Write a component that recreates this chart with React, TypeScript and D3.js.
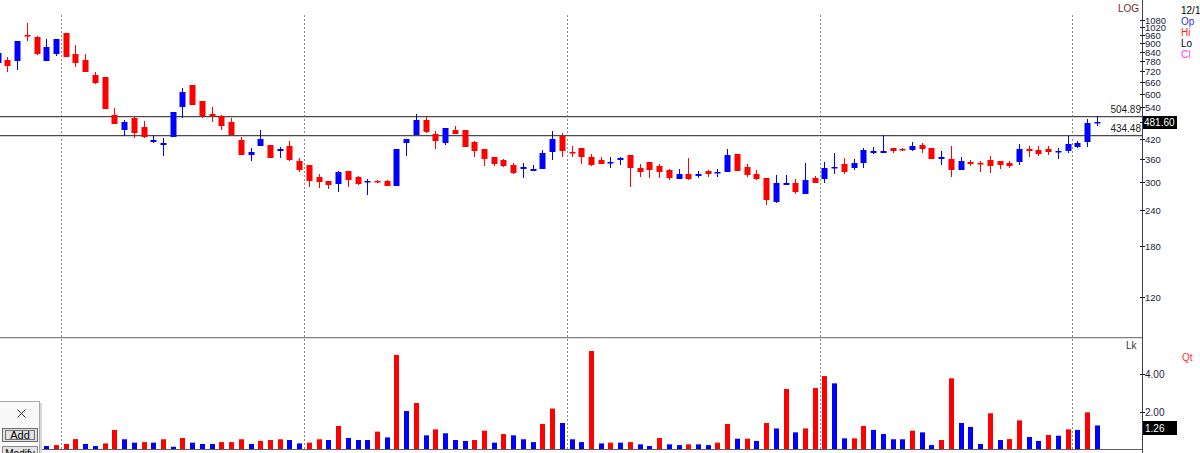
import React from 'react'
import * as d3 from 'd3'

// OHLC per bar (index 0 is the partly hidden bar at the left edge)
const opens = [768, 787, 782, 959, 946, 782, 824, 972, 824, 787, 699, 686, 509, 452, 496, 462, 411, 400, 427, 543,
  643, 569, 511, 505, 480, 418, 371, 399, 400, 382, 398, 352, 341, 311, 301, 294, 327, 311, 299, 301,
  301, 291, 408, 433, 488, 437, 408, 452, 450, 412, 388, 364, 356, 341, 331, 326, 332, 379, 432, 379,
  391, 364, 356, 347, 356, 371, 335, 350, 339, 329, 306, 318, 315, 327, 321, 325, 374, 336, 318, 310,
  255, 293, 296, 272, 309, 306, 334, 344, 333, 347, 377, 377, 392, 388, 386, 401, 391, 360, 359, 329,
  351, 348, 356, 353, 347, 350, 390, 386, 388, 382, 381, 394, 412, 478]
const highs = [838, 804, 915, 1057, 951, 929, 929, 977, 886, 824, 717, 686, 536, 489, 500, 485, 434, 423, 520, 630,
  643, 569, 543, 509, 496, 428, 392, 453, 400, 396, 415, 361, 341, 318, 301, 327, 327, 313, 307, 303,
  304, 390, 419, 512, 502, 449, 458, 466, 452, 414, 388, 364, 358, 347, 347, 341, 386, 447, 440, 398,
  391, 374, 364, 364, 366, 371, 345, 350, 345, 331, 331, 361, 326, 329, 331, 390, 374, 345, 329, 310,
  316, 316, 306, 348, 313, 350, 376, 361, 359, 391, 395, 434, 392, 392, 411, 406, 391, 384, 398, 366,
  356, 353, 368, 353, 353, 405, 398, 398, 398, 391, 432, 415, 492, 505]
const lows = [762, 717, 727, 917, 819, 782, 815, 808, 746, 717, 649, 535, 475, 432, 425, 423, 406, 369, 427, 496,
  551, 496, 480, 450, 435, 371, 354, 399, 363, 361, 353, 325, 288, 286, 284, 277, 287, 292, 269, 296,
  291, 291, 369, 433, 441, 389, 401, 437, 394, 364, 340, 340, 337, 319, 308, 326, 332, 356, 366, 364,
  346, 339, 345, 334, 342, 287, 311, 308, 309, 304, 306, 304, 309, 312, 312, 325, 327, 312, 304, 249,
  253, 293, 272, 272, 296, 298, 318, 318, 328, 334, 373, 377, 376, 381, 381, 376, 360, 342, 312, 329,
  339, 325, 322, 331, 335, 342, 364, 368, 371, 360, 376, 392, 396, 467]
const closes = [832, 752, 915, 955, 824, 870, 927, 808, 770, 717, 657, 535, 475, 481, 442, 427, 417, 406, 520, 610,
  551, 506, 506, 466, 435, 371, 380, 420, 363, 390, 356, 329, 302, 299, 293, 324, 304, 294, 302, 299,
  291, 390, 419, 489, 445, 415, 458, 437, 394, 381, 358, 345, 340, 322, 336, 331, 376, 419, 381, 376,
  366, 342, 345, 350, 361, 333, 325, 329, 325, 310, 318, 307, 318, 318, 324, 371, 327, 317, 306, 259,
  296, 296, 277, 303, 298, 335, 338, 325, 348, 386, 381, 384, 381, 385, 397, 389, 360, 364, 329, 353,
  345, 345, 339, 341, 339, 389, 384, 374, 379, 384, 404, 406, 476, 481.6]

// volume in lakhs, with the bar colour flag (B = blue, R = red)
const volumes = [0.3, 0.25, 0.4, 0.3, 0.2, 0.16, 0.21, 0.27, 0.53, 0.27, 0.16, 0.30, 1.02, 0.52, 0.34, 0.37, 0.34, 0.52, 0.12, 0.59,
  0.34, 0.27, 0.27, 0.37, 0.37, 0.52, 0.27, 0.43, 0.48, 0.52, 0.48, 0.30, 0.34, 0.52, 0.48, 1.23, 0.59, 0.48, 0.48, 0.93,
  0.62, 5.03, 2.03, 2.46, 0.73, 1.05, 0.84, 0.48, 0.43, 0.48, 0.98, 0.34, 0.80, 0.73, 0.52, 0.37, 1.34, 2.16, 1.39, 0.52,
  0.37, 5.24, 0.30, 0.34, 0.34, 0.37, 0.25, 0.16, 0.59, 0.25, 0.21, 0.25, 0.25, 0.21, 0.34, 1.34, 0.55, 0.55, 0.43, 1.39,
  1.10, 3.21, 0.89, 1.10, 3.26, 3.90, 3.51, 0.57, 0.57, 1.23, 1.02, 0.80, 0.52, 0.52, 0.98, 0.89, 0.21, 0.48, 3.78, 1.39,
  1.18, 0.27, 1.91, 0.48, 0.53, 1.53, 0.64, 0.43, 0.75, 0.71, 1.05, 1.02, 1.96, 1.26]
const volumeColors = 'RBRRB' + 'BRRRBBRRBB' + 'RBRBRBBBRR' + 'RBRRRBBRRB' + 'RBBBRBRBRB' + 'RBBBRRBRBB' +
  'BRRBBBRBRB' + 'RBBRBBRBBR' + 'RBRBRBRBRR' + 'RBBRRBBBBR' + 'BBRRBBBRBR' + 'RBBRBRBRB'

// last bar of each period (dotted separators drawn after these)
const periodEnds = [6, 31, 58, 84, 110]
const priceTicks = [120, 180, 240, 300, 360, 420, 480, 540, 600, 660, 720, 780, 840, 900, 960, 1020, 1080]
const volumeTicks = [2, 4]
const levels = [504.89, 434.48]
const legend = [
  { t: 'Op', c: '#3030ff' },
  { t: 'Hi', c: '#ff2020' },
  { t: 'Lo', c: '#000000' },
  { t: 'Cl', c: '#ff33ff' },
]

const W = 1200, H = 453
const AXIS_X = 1142
const PANEL_SPLIT = 337
const VOL_BASE = 449
const UP = '#0000ff', DOWN = '#ff0000'
const FONT = '"Liberation Sans", Arial, sans-serif'

const App = () => {
  const n = opens.length
  const x = d3.scaleLinear().domain([0, n - 1]).range([-2.4, 1096.8])
  const y = d3.scaleLog().domain([120, 1080]).range([297.3, 20])
  const yv = d3.scaleLinear().domain([0, 4]).range([VOL_BASE, 374.2])
  const fmt = d3.format('.2f')

  const lastClose = closes[n - 1]
  const lastVol = volumes[n - 1]
  const lastY = Math.round(y(lastClose))

  return (
    <svg width={W} height={H} style={{ position: 'absolute', left: 0, top: 0, background: '#fff', fontFamily: FONT }}>
      <rect width={W} height={H} fill="#ffffff" />

      {/* dotted period separators */}
      {periodEnds.map((k, i) => {
        const px = Math.round(x(k + 0.5)) + 0.5
        return <line key={'p' + i} x1={px} x2={px} y1={15} y2={VOL_BASE} stroke="#8a8a8a" strokeDasharray="2,2" />
      })}

      {/* support / resistance lines */}
      {levels.map((v, i) => {
        const py = Math.round(y(v)) + 0.5
        return (
          <g key={'l' + i}>
            <line x1={0} x2={AXIS_X} y1={py} y2={py} stroke="#4a4a4a" />
            <line x1={0} x2={AXIS_X} y1={py + 1} y2={py + 1} stroke="#d0d0d0" />
            <text x={AXIS_X - 1} y={py - 4} fontSize={10} textAnchor="end" fill="#222">{fmt(v)}</text>
          </g>
        )
      })}

      {/* candles */}
      {opens.map((o, k) => {
        const c = closes[k]
        const cx = Math.round(x(k))
        const col = c >= o ? UP : DOWN
        const top = Math.round(y(Math.max(o, c)))
        const bot = Math.round(y(Math.min(o, c)))
        return (
          <g key={'c' + k}>
            <line x1={cx + 0.5} x2={cx + 0.5} y1={Math.round(y(highs[k]))} y2={Math.round(y(lows[k]))} stroke={col} />
            <rect x={cx - 2.5} y={top} width={6} height={Math.max(1.5, bot - top)} fill={col} />
          </g>
        )
      })}

      {/* volume bars */}
      {volumes.map((v, k) => {
        const cx = Math.round(x(k))
        const top = yv(v)
        return <rect key={'v' + k} x={cx - 2} y={top} width={5} height={VOL_BASE - top}
          fill={volumeColors[k] === 'B' ? UP : DOWN} />
      })}

      {/* panel frame */}
      <line x1={0} x2={AXIS_X} y1={PANEL_SPLIT + 0.5} y2={PANEL_SPLIT + 0.5} stroke="#808080" />
      <line x1={0} x2={AXIS_X} y1={PANEL_SPLIT + 1.5} y2={PANEL_SPLIT + 1.5} stroke="#e0e0e0" />
      <line x1={0} x2={AXIS_X} y1={VOL_BASE + 0.5} y2={VOL_BASE + 0.5} stroke="#606060" />
      <line x1={AXIS_X + 0.5} x2={AXIS_X + 0.5} y1={0} y2={H} stroke="#3d3d66" />

      {/* price axis (labels hidden under the last-price box are skipped) */}
      {priceTicks.map(t => {
        const py = Math.round(y(t)) + 0.5
        const covered = Math.abs(py - lastY) < 8
        return (
          <g key={'t' + t}>
            <line x1={AXIS_X - 2} x2={AXIS_X + 3} y1={py} y2={py} stroke="#222" />
            {!covered && <text x={AXIS_X + 3} y={py + 3.5} fontSize={9.5} fill="#1c1c3c">{t}</text>}
          </g>
        )
      })}
      <text x={AXIS_X - 3} y={12} fontSize={10} textAnchor="end" fill="#7a1f1f">LOG</text>

      {/* last price box */}
      <rect x={AXIS_X + 1} y={lastY - 6} width={34} height={13} fill="#000" />
      <text x={AXIS_X + 2} y={lastY + 4} fontSize={10} fill="#fff">{fmt(lastClose)}</text>

      {/* volume axis */}
      {volumeTicks.map(t => {
        const py = Math.round(yv(t)) + 0.5
        return (
          <g key={'vt' + t}>
            <line x1={AXIS_X - 2} x2={AXIS_X + 3} y1={py} y2={py} stroke="#222" />
            <text x={AXIS_X + 3} y={py + 3.5} fontSize={10} fill="#1c1c3c">{fmt(t)}</text>
          </g>
        )
      })}
      <rect x={AXIS_X + 1} y={421} width={34} height={14} fill="#000" />
      <text x={AXIS_X + 3} y={432} fontSize={10} fill="#fff">{fmt(lastVol)}</text>
      <text x={AXIS_X - 16} y={349} fontSize={10} fill="#333">Lk</text>
      <text x={1182} y={361} fontSize={10} fill="#ff3030">Qt</text>

      {/* top-right legend */}
      <text x={1181} y={14} fontSize={10} fill="#000">12/1</text>
      {legend.map((d, i) => (
        <text key={d.t} x={1181} y={25 + i * 11} fontSize={10} fill={d.c}>{d.t}</text>
      ))}

      {/* floating tool window */}
      <g>
        <rect x={40} y={403} width={2} height={50} fill="#d8d8d8" />
        <rect x={-1} y={401.5} width={40.5} height={60} fill="#f9f9f9" stroke="#a8a8a8" />
        <line x1={17.5} y1={409.5} x2={25.5} y2={417.5} stroke="#333" />
        <line x1={25.5} y1={409.5} x2={17.5} y2={417.5} stroke="#333" />
        <rect x={2.5} y={428.5} width={35} height={13} fill="#e1e1e1" stroke="#6a6a6a" />
        <rect x={5.5} y={430.5} width={29} height={9} fill="none" stroke="#000" strokeDasharray="1,1" />
        <text x={20} y={439} fontSize={11} textAnchor="middle" fill="#000">Add</text>
        <rect x={2.5} y={446.5} width={35} height={13} fill="#e1e1e1" stroke="#8a8a8a" />
        <text x={20} y={457} fontSize={10} textAnchor="middle" fill="#000">Modify</text>
      </g>
    </svg>
  )
}

export default App
